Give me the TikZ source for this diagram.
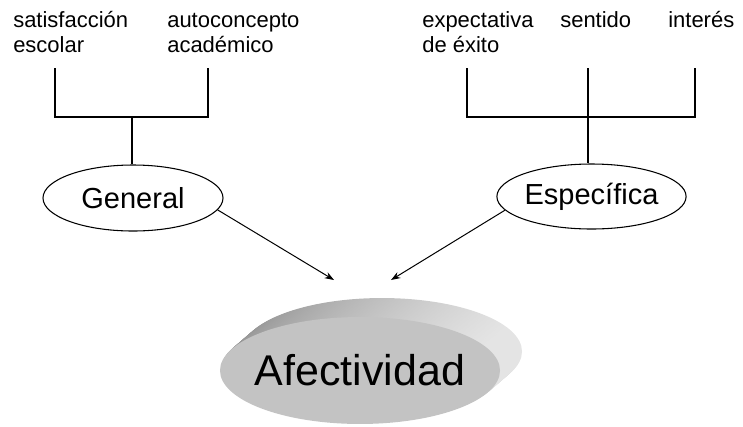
\documentclass[tikz,border=0pt]{standalone}
\usepackage{fontspec}
\setmainfont{Liberation Sans}
\usetikzlibrary{shapes.geometric,arrows.meta,calc}
\definecolor{facegray}{RGB}{195,195,195}
\definecolor{sidedark}{RGB}{150,150,150}
\definecolor{sidelight}{RGB}{228,228,228}
\tikzset{
  lbl/.style={anchor=base west,inner sep=0pt,font=\fontsize{16.5}{19.5}\selectfont},
  oval/.style={draw,ellipse,line width=0.8pt,inner sep=0pt,font=\fontsize{21.75}{26}\selectfont},
  tree/.style={line width=0.8pt},
  arr/.style={line width=0.75pt,-{Stealth[length=7pt,width=5pt]}}
}
\begin{document}
\begin{tikzpicture}[x=0.75pt,y=-0.75pt]
\useasboundingbox (0,0) rectangle (743,426);
% labels
\node[lbl] (sat1) at (13,27) {satisfacción};
\node[lbl] (sat2) at (13,52) {escolar};
\node[lbl] (aut1) at (167,27) {autoconcepto};
\node[lbl] (aut2) at (167,52) {académico};
\node[lbl] (exp1) at (422,27) {expectativa};
\node[lbl] (exp2) at (422,52) {de éxito};
\node[lbl] (sen) at (560,27) {sentido};
\node[lbl] (int) at (668,27) {interés};
% ovals
\node[oval,minimum width=135pt,minimum height=49.5pt] (gen) at (133,198) {General};
\node[oval,minimum width=134.25pt,minimum height=48.75pt] (esp) at (591.5,196.5) {\raisebox{3.75pt}{Específica}};
% left tree
\coordinate (l1t) at (55,68);
\coordinate (l1b) at (55,117);
\coordinate (l2t) at (208,68);
\coordinate (l2b) at (208,117);
\coordinate (lm) at (132,117);
\draw[tree] (l1t) -- (l1b) -- (l2b) -- (l2t);
\draw[tree] (lm) -- (lm |- gen.north);
% right tree
\coordinate (r1t) at (467,68);
\coordinate (r1b) at (467,117);
\coordinate (r2t) at (588,68);
\coordinate (r2b) at (588,117);
\coordinate (r3t) at (695,68);
\coordinate (r3b) at (695,117);
\draw[tree] (r1t) -- (r1b) -- (r3b) -- (r3t);
\draw[tree] (r2t) -- (r2b) -- (r2b |- esp.north);
% arrows
\coordinate (tipL) at (334,280);
\coordinate (tipR) at (391,280);
\draw[arr] (gen.-8) -- (tipL);
\draw[arr] (esp.189) -- (tipR);
% Afectividad 3D oval
\coordinate (afc) at (360,370.5);
\foreach \i in {24,...,1}{
  \shade[left color=sidedark,right color=sidelight,shading angle=100]
    ($(afc)+(22*\i/24,-19*\i/24)$) ellipse [x radius=105pt,y radius=40.1pt];
}
\fill[facegray] (afc) ellipse [x radius=105pt,y radius=40.1pt];
\node[inner sep=0pt,font=\fontsize{32.25}{38}\selectfont] (afe) at (afc) {Afectividad};
\end{tikzpicture}
\end{document}
